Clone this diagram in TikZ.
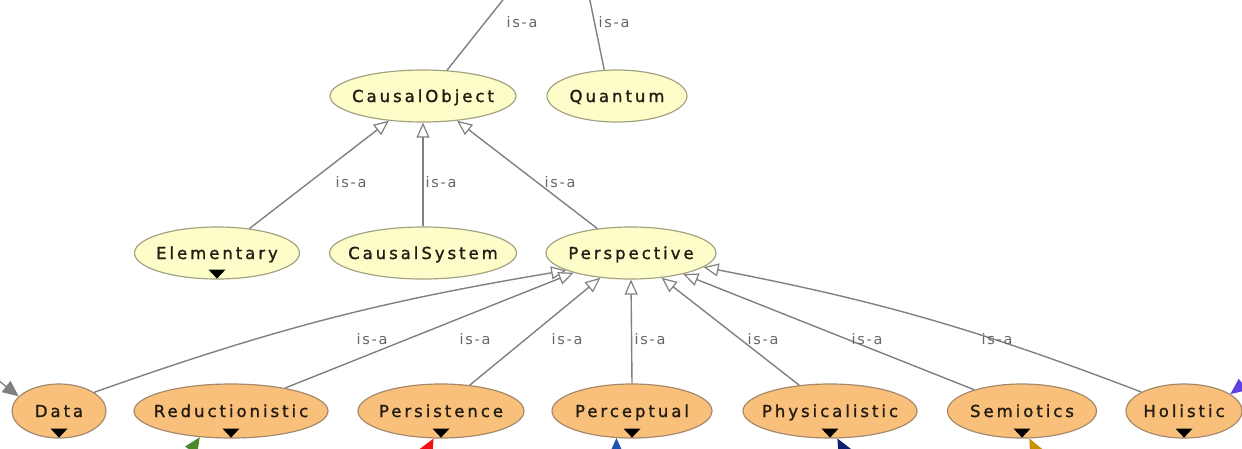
\documentclass[tikz,border=0pt]{standalone}
\usepackage{fontspec}
\setmainfont{DejaVu Sans}
\newfontfamily\nodefont{DejaVu Sans}[LetterSpace=18,FakeBold=1.3]
\newfontfamily\isafont{DejaVu Sans}[LetterSpace=12]
\usetikzlibrary{shapes.geometric,arrows.meta}
\definecolor{topfill}{HTML}{FDFDC9}
\definecolor{topdraw}{HTML}{A3A382}
\definecolor{botfill}{HTML}{F9C07C}
\definecolor{botdraw}{HTML}{A6896A}
\definecolor{edgecol}{HTML}{808080}
\definecolor{labcol}{HTML}{666666}
\definecolor{txtcol}{HTML}{221C12}
\definecolor{extgray}{HTML}{7F7F7F}
\definecolor{extgreen}{HTML}{4A8A2A}
\definecolor{extred}{HTML}{F01010}
\definecolor{extblue}{HTML}{2050B0}
\definecolor{extnavy}{HTML}{102070}
\definecolor{extgold}{HTML}{C89000}
\definecolor{extpurple}{HTML}{6040E0}
\newcommand\dmark[1]{\fill[black] ([xshift=-8.5pt,yshift=10pt]#1.south) -- ++(17,0) -- ([yshift=1pt]#1.south) -- cycle;}
\begin{document}
\begin{tikzpicture}[x=1pt,y=-1pt,
  cls/.style={ellipse, inner sep=0pt, line width=1.2pt, minimum height=52pt,
    font=\nodefont\fontsize{16.5}{18}\selectfont, text=txtcol, text height=12pt, text depth=0pt},
  topcls/.style={cls, fill=topfill, draw=topdraw},
  botcls/.style={cls, fill=botfill, draw=botdraw, minimum height=54pt},
  isa/.style={draw=edgecol, line width=1.4pt, -{Triangle[length=15pt,width=13pt,fill=white,line width=1.2pt]}},
  plainedge/.style={draw=edgecol, line width=1.4pt},
  isalab/.style={font=\isafont\fontsize{14.5}{16}\selectfont, text=labcol, inner sep=1pt},
  ext/.style={line width=1.3pt, -{Triangle[length=16pt,width=14pt]}},
]
\useasboundingbox (0,0) rectangle (1242,448);
\clip (0,0) rectangle (1242,448);

% top row
\node[topcls, minimum width=186pt] (CO) at (423,96) {\makebox[0pt]{CausalObject}};
\node[topcls, minimum width=140pt] (Q) at (617,96) {\makebox[0pt]{Quantum}};
% middle row
\node[topcls, minimum width=165pt] (E) at (217,253) {\makebox[0pt]{Elementary}};
\node[topcls, minimum width=187pt] (CS) at (423,253) {\makebox[0pt]{CausalSystem}};
\node[topcls, minimum width=170pt] (P) at (631,253) {\makebox[0pt]{Perspective}};
% bottom row
\node[botcls, minimum width=94pt] (D) at (59,411) {\makebox[0pt]{Data}};
\node[botcls, minimum width=194pt] (R) at (231,411) {\makebox[0pt]{Reductionistic}};
\node[botcls, minimum width=166pt] (Pe) at (441,411) {\makebox[0pt]{Persistence}};
\node[botcls, minimum width=160pt] (Pc) at (632,411) {\makebox[0pt]{Perceptual}};
\node[botcls, minimum width=174pt] (Ph) at (830,411) {\makebox[0pt]{Physicalistic}};
\node[botcls, minimum width=149pt] (S) at (1022,411) {\makebox[0pt]{Semiotics}};
\node[botcls, minimum width=116pt] (H) at (1184,411) {\makebox[0pt]{Holistic}};

% expand markers
\dmark{E}
\dmark{D}\dmark{R}\dmark{Pe}\dmark{Pc}\dmark{Ph}\dmark{S}\dmark{H}

% edges leaving the frame at the top
\coordinate (up1) at (506,-4);
\coordinate (up2) at (589,-4);
\draw[plainedge] (CO.47) -- (up1);
\draw[plainedge] (Q.116) -- (up2);

% is-a edges to CausalObject
\draw[isa] (E.37) -- (CO.216);
\draw[isa] (CS.90) -- (CO.270);
\draw[isa] (P.144) -- (CO.324);

% is-a edges to Perspective
\draw[isa] (D.28) to[bend left=5] (P.195);
\draw[isa] (R.23) -- (P.199);
\draw[isa] (Pe.42) -- (P.219);
\draw[isa] (Pc.90) -- (P.270);
\draw[isa] (Ph.140) -- (P.321);
\draw[isa] (S.156) -- (P.338);
\draw[isa] (H.156) to[bend right=5] (P.349);

% edge labels
\node[isalab] (l1) at (522,22) {is-a};
\node[isalab] (l2) at (614,22) {is-a};
\node[isalab] (l3) at (351,182) {is-a};
\node[isalab] (l4) at (441,182) {is-a};
\node[isalab] (l5) at (560,182) {is-a};
\node[isalab] (l6) at (372,339) {is-a};
\node[isalab] (l7) at (475,339) {is-a};
\node[isalab] (l8) at (567,339) {is-a};
\node[isalab] (l9) at (650,339) {is-a};
\node[isalab] (l10) at (763,339) {is-a};
\node[isalab] (l11) at (867,339) {is-a};
\node[isalab] (l12) at (997,339) {is-a};

% incoming edges from outside the frame
\coordinate (sg) at (-30,358);
\coordinate (sgr) at (165,490);
\coordinate (sr) at (405,490);
\coordinate (sb) at (617,500);
\coordinate (sn) at (865,490);
\coordinate (so) at (1055,490);
\coordinate (sp) at (1275,360);
\draw[ext, extgray, fill=extgray] (sg) -- (D.160);
\draw[ext, extgreen, fill=extgreen] (sgr) -- (R.220);
\draw[ext, extred, fill=extred] (sr) -- (Pe.255);
\draw[ext, extblue, fill=extblue] (sb) -- (Pc.240);
\draw[ext, extnavy, fill=extnavy] (sn) -- (Ph.285);
\draw[ext, extgold, fill=extgold] (so) -- (S.285);
\draw[ext, extpurple, fill=extpurple] (sp) -- (H.20);
\end{tikzpicture}
\end{document}
